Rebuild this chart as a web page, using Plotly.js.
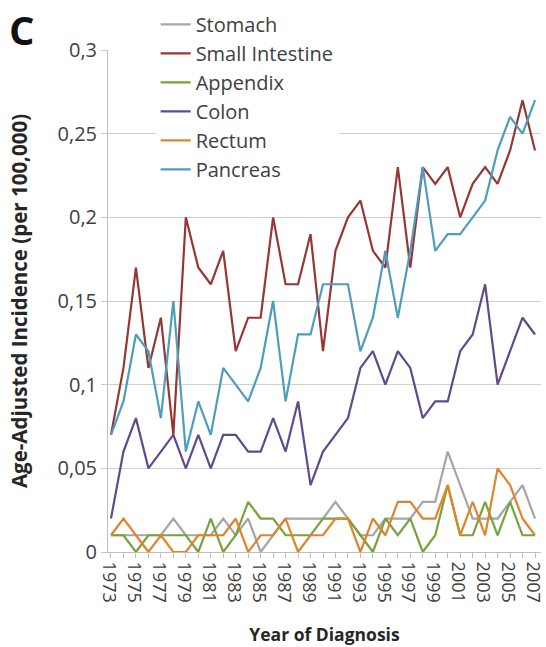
<!DOCTYPE html>
<html>
<head>
<meta charset="utf-8">
<script src="https://cdn.plot.ly/plotly-3.0.1.min.js"></script>
<style>
  html, body { margin: 0; padding: 0; background: #ffffff; }
  #chart { width: 546px; height: 647px; }
</style>
</head>
<body>
<div id="chart"></div>
<script>
// Years of diagnosis
const years = [1973, 1974, 1975, 1976, 1977, 1978, 1979, 1980, 1981, 1982,
               1983, 1984, 1985, 1986, 1987, 1988, 1989, 1990, 1991, 1992,
               1993, 1994, 1995, 1996, 1997, 1998, 1999, 2000, 2001, 2002,
               2003, 2004, 2005, 2006, 2007];

// Labelled years on the x axis
const yearTicks = [1973, 1975, 1977, 1979, 1981, 1983, 1985, 1987, 1989,
                   1991, 1993, 1995, 1997, 1999, 2001, 2003, 2005, 2007];
const yearTickText = ["1973", "1975", "1977", "1979", "1981", "1983", "1985", "1987", "1989",
                      "1991", "1993", "1995", "1997", "1999", "2001", "2003", "2005", "2007"];

// Age-adjusted incidence per 100,000, by site
const stomach = [0.01, 0.01, 0.01, 0.01, 0.01, 0.02, 0.01, 0.01, 0.01, 0.02,
                 0.01, 0.02, 0.00, 0.01, 0.02, 0.02, 0.02, 0.02, 0.03, 0.02,
                 0.01, 0.01, 0.02, 0.02, 0.02, 0.03, 0.03, 0.06, 0.04, 0.02,
                 0.02, 0.02, 0.03, 0.04, 0.02];
const smallIntestine = [0.07, 0.11, 0.17, 0.11, 0.14, 0.07, 0.20, 0.17, 0.16, 0.18,
                        0.12, 0.14, 0.14, 0.20, 0.16, 0.16, 0.19, 0.12, 0.18, 0.20,
                        0.21, 0.18, 0.17, 0.23, 0.17, 0.23, 0.22, 0.23, 0.20, 0.22,
                        0.23, 0.22, 0.24, 0.27, 0.24];
const appendix = [0.01, 0.01, 0.00, 0.01, 0.01, 0.01, 0.01, 0.00, 0.02, 0.00,
                  0.01, 0.03, 0.02, 0.02, 0.01, 0.01, 0.01, 0.02, 0.02, 0.02,
                  0.01, 0.00, 0.02, 0.01, 0.02, 0.00, 0.01, 0.04, 0.01, 0.01,
                  0.03, 0.01, 0.03, 0.01, 0.01];
const colon = [0.02, 0.06, 0.08, 0.05, 0.06, 0.07, 0.05, 0.07, 0.05, 0.07,
               0.07, 0.06, 0.06, 0.08, 0.06, 0.09, 0.04, 0.06, 0.07, 0.08,
               0.11, 0.12, 0.10, 0.12, 0.11, 0.08, 0.09, 0.09, 0.12, 0.13,
               0.16, 0.10, 0.12, 0.14, 0.13];
const rectum = [0.01, 0.02, 0.01, 0.00, 0.01, 0.00, 0.00, 0.01, 0.01, 0.01,
                0.02, 0.00, 0.01, 0.01, 0.02, 0.00, 0.01, 0.01, 0.02, 0.02,
                0.00, 0.02, 0.01, 0.03, 0.03, 0.02, 0.02, 0.04, 0.01, 0.03,
                0.01, 0.05, 0.04, 0.02, 0.01];
const pancreas = [0.07, 0.09, 0.13, 0.12, 0.08, 0.15, 0.06, 0.09, 0.07, 0.11,
                  0.10, 0.09, 0.11, 0.15, 0.09, 0.13, 0.13, 0.16, 0.16, 0.16,
                  0.12, 0.14, 0.18, 0.14, 0.18, 0.23, 0.18, 0.19, 0.19, 0.20,
                  0.21, 0.24, 0.26, 0.25, 0.27];

const siteNames = ["Stomach", "Small Intestine", "Appendix", "Colon", "Rectum", "Pancreas"];
const siteValues = [stomach, smallIntestine, appendix, colon, rectum, pancreas];
const siteColors = ["#a5a5a5", "#953735", "#77a33b", "#5f4a8b", "#e0842c", "#4f9cbc"];

const FONT = '"Open Sans", "DejaVu Sans", sans-serif';

const traces = siteNames.map((name, i) => ({
  type: "scatter",
  mode: "lines",
  name: name,
  legendgroup: name,
  x: years,
  y: siteValues[i],
  line: { color: siteColors[i], width: 2.2 },
  hoverinfo: "x+y+name"
}));

const layout = {
  width: 546,
  height: 647,
  margin: { l: 108, r: 5, t: 50, b: 95 },
  paper_bgcolor: "#ffffff",
  plot_bgcolor: "#ffffff",
  separators: ",.",
  font: { family: FONT, color: "#404040" },
  showlegend: true,
  legend: {
    x: 0.11, xanchor: "left",
    y: 1.09, yanchor: "top",
    bgcolor: "#ffffff",
    font: { family: FONT, size: 20, color: "#404040" },
    tracegroupgap: 0,
    itemwidth: 30
  },
  xaxis: {
    range: [1972.76, 2007.48],
    tickmode: "array",
    tickvals: yearTicks,
    ticktext: yearTickText,
    tickangle: 90,
    ticklabelshift: -2,
    ticklabeloverflow: "allow",
    tickfont: { family: FONT, size: 18, color: "#404040" },
    ticks: "outside",
    ticklen: 5,
    tickcolor: "#bfbfbf",
    minor: { dtick: 1, tick0: 1973, ticks: "outside", ticklen: 5, tickcolor: "#bfbfbf", showgrid: false },
    showgrid: false,
    zeroline: false,
    showline: true,
    linecolor: "#bfbfbf",
    linewidth: 1,
    automargin: false,
    title: {
      text: "<b>Year of Diagnosis</b>",
      font: { family: FONT, size: 17.5, color: "#262626" },
      standoff: 26
    }
  },
  yaxis: {
    range: [0, 0.3],
    dtick: 0.05,
    tick0: 0,
    tickfont: { family: FONT, size: 20, color: "#404040" },
    ticks: "outside",
    ticklen: 6,
    tickcolor: "#c8c8c8",
    showgrid: true,
    gridcolor: "#d0d0d0",
    gridwidth: 1,
    zeroline: false,
    showline: true,
    linecolor: "#bfbfbf",
    linewidth: 1,
    automargin: false,
    title: {
      text: "<b>Age-Adjusted Incidence (per 100,000)</b>",
      font: { family: FONT, size: 20.5, color: "#262626" },
      standoff: 24
    }
  },
  annotations: [{
    text: "<b>C</b>",
    xref: "paper", yref: "paper",
    x: -108 / 433 + 7 / 433, xanchor: "left",
    y: 1 + 50 / 502, yanchor: "top",
    showarrow: false,
    font: { family: FONT, size: 40, color: "#111111" }
  }]
};

Plotly.newPlot("chart", traces, layout, { displayModeBar: false, staticPlot: true });
</script>
</body>
</html>
